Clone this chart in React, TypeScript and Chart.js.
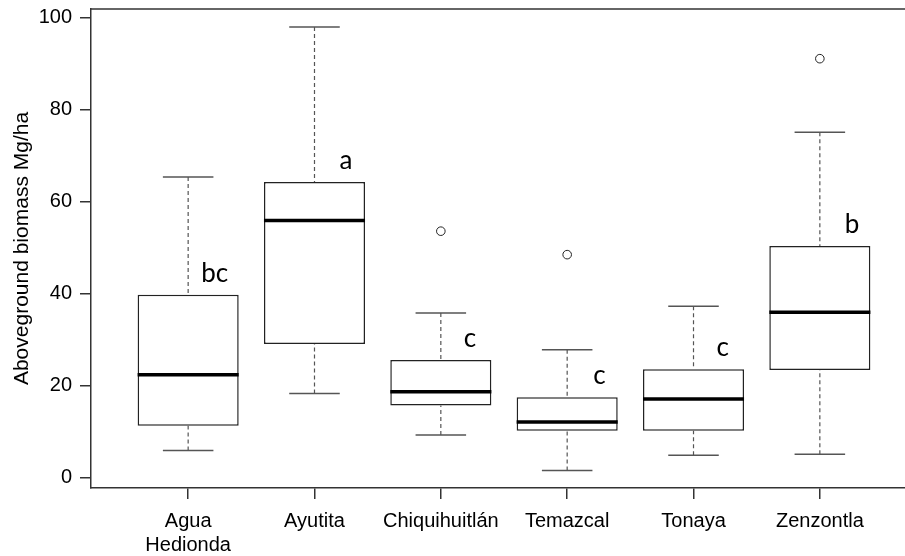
import React, { useEffect, useRef } from "react";
import { Chart, registerables } from "chart.js";

Chart.register(...registerables);

// ---- data ----
const categories = ["Agua Hedionda", "Ayutita", "Chiquihuitlán", "Temazcal", "Tonaya", "Zenzontla"];
const tickLabels: (string | string[])[] = [["Agua", "Hedionda"], "Ayutita", "Chiquihuitlán", "Temazcal", "Tonaya", "Zenzontla"];
const whiskerLow = [5.8, 18.2, 9.2, 1.5, 4.8, 5.0];
const q1 = [11.2, 29.0, 15.6, 10.1, 10.1, 23.3];
const median = [22.3, 55.8, 18.6, 12.0, 17.0, 35.9];
const q3 = [39.7, 64.2, 25.5, 17.4, 23.5, 50.3];
const whiskerHigh = [65.3, 97.9, 35.7, 27.7, 37.2, 75.0];
const outliers: number[][] = [[], [], [53.5], [48.4], [], [91.0]];
const groupLetters = ["bc", "a", "c", "c", "c", "b"];
const yTicks = [0, 20, 40, 60, 80, 100];
const yTitle = "Aboveground biomass Mg/ha";

// ---- style config ----
const letterOffsetX = [13, 25, 23, 26, 23, 25];
const AXIS_FONT = "'Liberation Sans', Arial, sans-serif";

const boxExtras = {
  id: "boxExtras",
  afterDatasetsDraw(chart: any) {
    const { ctx, chartArea, scales } = chart;
    const x = scales.x;
    const y = scales.y;
    const meta = chart.getDatasetMeta(0);
    ctx.save();
    // top frame line
    ctx.strokeStyle = "#333";
    ctx.lineWidth = 1.5;
    ctx.beginPath();
    ctx.moveTo(chartArea.left, chartArea.top);
    ctx.lineTo(chartArea.right, chartArea.top);
    ctx.stroke();

    categories.forEach((_, i) => {
      const el = meta.data[i];
      const cx = x.getPixelForValue(i + 1);
      const half = el.width / 2;
      const pHi = y.getPixelForValue(whiskerHigh[i]);
      const pLo = y.getPixelForValue(whiskerLow[i]);
      const pQ1 = y.getPixelForValue(q1[i]);
      const pQ3 = y.getPixelForValue(q3[i]);
      const pMed = y.getPixelForValue(median[i]);

      // dashed whiskers
      ctx.setLineDash([4, 3]);
      ctx.strokeStyle = "#555";
      ctx.lineWidth = 1.2;
      ctx.beginPath();
      ctx.moveTo(cx, pHi);
      ctx.lineTo(cx, pQ3);
      ctx.moveTo(cx, pLo);
      ctx.lineTo(cx, pQ1);
      ctx.stroke();
      ctx.setLineDash([]);

      // caps
      ctx.strokeStyle = "#555";
      ctx.lineWidth = 1.5;
      ctx.beginPath();
      ctx.moveTo(cx - half / 2, pHi);
      ctx.lineTo(cx + half / 2, pHi);
      ctx.moveTo(cx - half / 2, pLo);
      ctx.lineTo(cx + half / 2, pLo);
      ctx.stroke();

      // median
      ctx.strokeStyle = "#000";
      ctx.lineWidth = 3.5;
      ctx.beginPath();
      ctx.moveTo(cx - half, pMed);
      ctx.lineTo(cx + half, pMed);
      ctx.stroke();

      // group letters
      ctx.font = "26px Lato, 'Open Sans', sans-serif";
      ctx.fillStyle = "#000";
      ctx.textAlign = "left";
      ctx.textBaseline = "alphabetic";
      ctx.fillText(groupLetters[i], cx + letterOffsetX[i], pQ3 - 13);
    });
    ctx.restore();
  },
};

export default function App() {
  const canvasRef = useRef<HTMLCanvasElement | null>(null);

  useEffect(() => {
    if (!canvasRef.current) return;
    const outlierPoints: { x: number; y: number }[] = [];
    outliers.forEach((arr, i) => arr.forEach((v) => outlierPoints.push({ x: i + 1, y: v })));

    const chart = new Chart(canvasRef.current, {
      type: "bar",
      data: {
        datasets: [
          {
            type: "bar",
            label: "IQR",
            data: categories.map((_, i) => ({ x: i + 1, y: [q1[i], q3[i]] })) as any,
            backgroundColor: "#ffffff",
            borderColor: "#222",
            borderWidth: 1.5,
            borderSkipped: false,
            barPercentage: 0.8,
            categoryPercentage: 1,
            order: 2,
          } as any,
          {
            type: "scatter",
            label: "Outliers",
            data: outlierPoints,
            pointRadius: 4.3,
            pointStyle: "circle",
            borderColor: "#222",
            borderWidth: 1,
            backgroundColor: "#ffffff",
            order: 1,
          } as any,
        ],
      },
      options: {
        responsive: false,
        devicePixelRatio: 1,
        animation: false,
        layout: { autoPadding: false, padding: { top: 9, left: 0, right: 0, bottom: 0 } },
        plugins: { legend: { display: false }, tooltip: { enabled: false } },
        scales: {
          x: {
            type: "linear",
            min: 0.231,
            max: 6.674,
            offset: false,
            afterBuildTicks: (scale: any) => {
              scale.ticks = categories.map((_, i) => ({ value: i + 1 }));
            },
            afterFit: (scale: any) => {
              scale.height = 68;
              scale.paddingLeft = 0;
              scale.paddingRight = 0;
            },
            ticks: {
              autoSkip: false,
              maxRotation: 0,
              minRotation: 0,
              padding: 10,
              color: "#000",
              font: { family: AXIS_FONT, size: 20, lineHeight: 1.2 },
              callback: (value: any) => tickLabels[Math.round(value) - 1] ?? "",
            },
            grid: {
              display: true,
              offset: false,
              drawOnChartArea: false,
              drawTicks: true,
              tickLength: 11,
              color: "#333",
              lineWidth: 1.5,
            },
            border: { display: true, color: "#333", width: 1.5 },
          } as any,
          y: {
            type: "linear",
            min: -2.33,
            max: 101.8,
            afterBuildTicks: (scale: any) => {
              scale.ticks = yTicks.map((v) => ({ value: v }));
            },
            afterFit: (scale: any) => {
              scale.width = 91;
              scale.paddingTop = 0;
              scale.paddingBottom = 0;
            },
            ticks: {
              padding: 8,
              color: "#000",
              font: { family: AXIS_FONT, size: 20, lineHeight: 1.2 },
            },
            grid: {
              display: true,
              drawOnChartArea: false,
              drawTicks: true,
              tickLength: 11,
              color: "#333",
              lineWidth: 1.5,
            },
            border: { display: true, color: "#333", width: 1.5 },
            title: {
              display: true,
              text: yTitle,
              color: "#000",
              padding: { top: 10, bottom: 0 },
              font: { family: AXIS_FONT, size: 21, lineHeight: 1.2 },
            },
          } as any,
        },
      },
      plugins: [boxExtras],
    });
    return () => chart.destroy();
  }, []);

  return (
    <div style={{ position: "fixed", left: 0, top: 0, width: 905, height: 556, background: "#fff" }}>
      <canvas ref={canvasRef} width={905} height={556} style={{ display: "block" }} />
    </div>
  );
}
